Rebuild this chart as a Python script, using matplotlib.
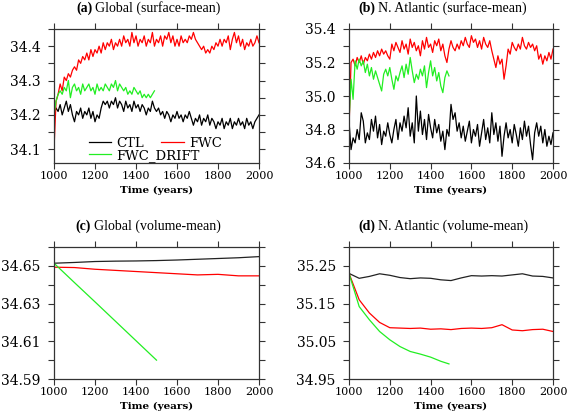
# LIBRARIES

import numpy as np
import matplotlib
matplotlib.use("Agg")
import matplotlib.pyplot as plt
from matplotlib.ticker import MultipleLocator, FormatStrFormatter
from matplotlib.offsetbox import TextArea, HPacker, AnchoredOffsetbox


# DATA  (10-year steps for surface means)

YEARS = np.arange(1000, 2001, 10)
YEARS_DRIFT = np.arange(1000, 1491, 10)

A_CTL = [
    34.20, 34.22, 34.21, 34.23, 34.20, 34.22, 34.24, 34.21, 34.23, 34.20,
    34.18, 34.21, 34.20, 34.22, 34.19, 34.21, 34.20, 34.22, 34.19, 34.21,
    34.18, 34.20, 34.19, 34.22, 34.24, 34.23, 34.24, 34.22, 34.24, 34.23,
    34.25, 34.22, 34.24, 34.23, 34.21, 34.24, 34.22, 34.23, 34.21, 34.24,
    34.22, 34.23, 34.21, 34.23, 34.22, 34.20, 34.22, 34.21, 34.24, 34.22,
    34.21, 34.22, 34.20, 34.21, 34.19, 34.21, 34.20, 34.18, 34.20, 34.19,
    34.21, 34.19, 34.20, 34.18, 34.20, 34.19, 34.21, 34.19, 34.17, 34.19,
    34.18, 34.20, 34.17, 34.19, 34.18, 34.20, 34.17, 34.19, 34.18, 34.16,
    34.18, 34.17, 34.19, 34.16, 34.18, 34.17, 34.19, 34.16, 34.18, 34.17,
    34.19, 34.17, 34.18, 34.16, 34.19, 34.17, 34.18, 34.16, 34.18, 34.19,
    34.20,
]
A_FWC = [
    34.10, 34.24, 34.26, 34.29, 34.27, 34.31, 34.30, 34.32, 34.31, 34.33,
    34.34, 34.33, 34.36, 34.35, 34.37, 34.36, 34.38, 34.36, 34.39, 34.37,
    34.39, 34.38, 34.40, 34.38, 34.41, 34.39, 34.41, 34.40, 34.42, 34.39,
    34.41, 34.40, 34.42, 34.40, 34.43, 34.41, 34.42, 34.40, 34.44, 34.41,
    34.43, 34.40, 34.42, 34.41, 34.43, 34.40, 34.42, 34.41, 34.44, 34.40,
    34.42, 34.41, 34.43, 34.40, 34.43, 34.42, 34.44, 34.41, 34.43, 34.40,
    34.42, 34.40, 34.43, 34.41, 34.42, 34.41, 34.43, 34.42, 34.44, 34.42,
    34.41, 34.40, 34.39, 34.40, 34.38, 34.39, 34.38, 34.40, 34.39, 34.41,
    34.40, 34.42, 34.40, 34.42, 34.41, 34.43, 34.39, 34.42, 34.44, 34.41,
    34.43, 34.40, 34.42, 34.39, 34.41, 34.40, 34.42, 34.40, 34.41, 34.43,
    34.41,
]
A_DRIFT = [
    34.20, 34.24, 34.26, 34.27, 34.26, 34.28, 34.27, 34.30, 34.25, 34.28,
    34.29, 34.27, 34.28, 34.26, 34.29, 34.27, 34.28, 34.29, 34.27, 34.28,
    34.26, 34.29, 34.27, 34.28, 34.27, 34.29, 34.28, 34.27, 34.29, 34.28,
    34.30, 34.27, 34.29, 34.28, 34.27, 34.28, 34.26, 34.27, 34.26, 34.28,
    34.27, 34.26, 34.27, 34.25, 34.26, 34.25, 34.26, 34.25, 34.26, 34.27,
]

B_CTL = [
    34.85, 34.68, 34.75, 34.72, 34.80, 34.74, 34.90, 34.85, 34.72, 34.78,
    34.74, 34.86, 34.79, 34.88, 34.75, 34.83, 34.71, 34.79, 34.76, 34.84,
    34.77, 34.72, 34.80, 34.86, 34.74, 34.84, 34.79, 34.88, 34.81, 34.93,
    34.76, 34.84, 34.72, 35.00, 34.79, 34.91, 34.77, 34.86, 34.74, 34.89,
    34.81, 34.75, 34.86, 34.78, 34.83, 34.73, 34.79, 34.68, 34.80, 34.76,
    34.95, 34.86, 34.90, 34.79, 34.84, 34.75, 34.82, 34.73, 34.79, 34.85,
    34.72, 34.80, 34.76, 34.83, 34.70, 34.78, 34.86, 34.74, 34.81, 34.72,
    34.90, 34.77, 34.84, 34.73, 34.82, 34.64, 34.76, 34.84, 34.75, 34.80,
    34.72, 34.83, 34.77, 34.70, 34.81, 34.74, 34.85, 34.76, 34.82, 34.71,
    34.62, 34.78, 34.84, 34.76, 34.82, 34.72, 34.80, 34.70, 34.76, 34.71,
    34.78,
]
B_FWC = [
    34.80, 35.20, 35.22, 35.18, 35.23, 35.20, 35.24, 35.19, 35.23, 35.21,
    35.25, 35.22, 35.26, 35.23, 35.27, 35.24, 35.28, 35.25, 35.27, 35.24,
    35.22, 35.31, 35.27, 35.32, 35.29, 35.26, 35.33, 35.28, 35.31, 35.25,
    35.34, 35.29, 35.32, 35.27, 35.30, 35.24, 35.33, 35.28, 35.35, 35.29,
    35.31, 35.26, 35.33, 35.30, 35.34, 35.27, 35.31, 35.24, 35.20, 35.28,
    35.33, 35.29, 35.27, 35.31, 35.28, 35.33, 35.30, 35.35, 35.31, 35.29,
    35.36, 35.32, 35.34, 35.29, 35.33, 35.28, 35.35, 35.31, 35.29, 35.33,
    35.27, 35.22, 35.17, 35.24, 35.19, 35.22, 35.10, 35.18, 35.28, 35.25,
    35.32, 35.29, 35.27, 35.31, 35.28, 35.35, 35.30, 35.28, 35.32, 35.29,
    35.31, 35.27, 35.30, 35.22, 35.25, 35.19, 35.24, 35.21, 35.26, 35.22,
    35.28,
]
B_DRIFT = [
    34.85, 35.10, 34.98, 35.21, 35.16, 35.22, 35.18, 35.21, 35.14, 35.19,
    35.12, 35.17, 35.10, 35.15, 35.11, 35.07, 35.03, 35.13, 35.16, 35.12,
    35.17, 35.10, 35.04, 35.12, 35.09, 35.14, 35.18, 35.11, 35.19, 35.13,
    35.23, 35.15, 35.08, 35.13, 35.10, 35.16, 35.12, 35.18, 35.05, 35.14,
    35.21, 35.12, 35.17, 35.09, 35.14, 35.06, 35.02, 35.11, 35.15, 35.12,
]

YEARS_C = np.arange(1000, 2001, 100)
YEARS_C_DRIFT = np.arange(1000, 1501, 100)
C_CTL = [34.6514, 34.6518, 34.6523, 34.6525, 34.6526, 34.6528,
         34.6531, 34.6535, 34.6539, 34.6543, 34.6549]
C_FWC = [34.6493, 34.6491, 34.6482, 34.6476, 34.6470, 34.6464,
         34.6458, 34.6452, 34.6455, 34.6447, 34.6447]
C_DRIFT = [34.6514, 34.6411, 34.6309, 34.6206, 34.6103, 34.6000]

YEARS_D = np.arange(1000, 2001, 50)
YEARS_D_DRIFT = [1000, 1050, 1100, 1150, 1200, 1250, 1300, 1350, 1400, 1450, 1490]
D_CTL = [35.230, 35.217, 35.222, 35.229, 35.225, 35.219, 35.216, 35.218,
         35.217, 35.213, 35.211, 35.218, 35.224, 35.223, 35.224, 35.223,
         35.226, 35.229, 35.223, 35.222, 35.218]
D_FWC = [35.230, 35.160, 35.125, 35.100, 35.086, 35.085, 35.084, 35.085,
         35.082, 35.083, 35.081, 35.084, 35.085, 35.084, 35.086, 35.094,
         35.080, 35.078, 35.081, 35.082, 35.076]
D_DRIFT = [35.230, 35.142, 35.107, 35.076, 35.054, 35.036, 35.023, 35.016,
           35.008, 34.997, 34.990]


# STYLE

W, H = 567, 417
SERIF = "DejaVu Serif"
TITLE_FONT = "Liberation Serif"
GREEN = "#22ee22"
EDGE = "#333333"


def rect(l, t, r, b):
    return [l / W, (H - b) / H, (r - l) / W, (b - t) / H]


def style(ax, ylim, lab_step, tick_step, fmt, offset=0.0):
    ax.set_xlim(1000, 2000)
    ax.set_ylim(*ylim)
    ax.xaxis.set_major_locator(MultipleLocator(200))
    ax.yaxis.set_major_locator(MultipleLocator(lab_step, offset=offset))
    ax.yaxis.set_minor_locator(MultipleLocator(tick_step))
    ax.yaxis.set_major_formatter(FormatStrFormatter(fmt))
    ax.tick_params(which="both", direction="out", top=True, right=True,
                   length=4.5, width=0.8, color=EDGE)
    ax.tick_params(axis="y", labelsize=10, pad=5, labelfontfamily=SERIF)
    ax.tick_params(axis="x", labelsize=8, pad=1.5, labelfontfamily=SERIF)
    for s in ax.spines.values():
        s.set_color(EDGE)
        s.set_linewidth(0.9)
    ax.set_xlabel("Time (years)", family=SERIF, fontweight="bold",
                  fontsize=7.5, labelpad=3)


def title(ax, tag, text):
    box = HPacker(children=[
        TextArea(tag, textprops=dict(family=TITLE_FONT, weight="bold", size=10)),
        TextArea(text, textprops=dict(family=TITLE_FONT, size=10)),
    ], align="baseline", pad=0, sep=2)
    anc = AnchoredOffsetbox(loc="lower center", child=box, pad=0, borderpad=1.0,
                            frameon=False, bbox_to_anchor=(0.46, 1.0),
                            bbox_transform=ax.transAxes, prop=dict(size=10))
    ax.add_artist(anc)


# PLOT

fig = plt.figure(figsize=(W / 100, H / 100), dpi=100)

ax_a = fig.add_axes(rect(54, 29, 259, 163))
ax_b = fig.add_axes(rect(349, 29, 553, 163))
ax_c = fig.add_axes(rect(54, 247, 259, 379))
ax_d = fig.add_axes(rect(349, 247, 553, 379))

lw = 0.9

# (a)
l_ctl, = ax_a.plot(YEARS, A_CTL, color="black", lw=lw, label="CTL")
l_fwc, = ax_a.plot(YEARS, A_FWC, color="red", lw=lw, label="FWC")
l_dr, = ax_a.plot(YEARS_DRIFT, A_DRIFT, color=GREEN, lw=lw, label="FWC_DRIFT")
style(ax_a, (34.06, 34.45), 0.1, 0.05, "%.1f")
title(ax_a, "(a)", "Global (surface-mean)")

leg_kw = dict(frameon=False, prop=dict(family=SERIF, size=9.5), handlelength=1.7,
              handletextpad=0.4, borderpad=0, borderaxespad=0, loc="center left")
leg1 = ax_a.legend(handles=[l_ctl, l_fwc], ncol=2, columnspacing=1.3,
                   bbox_to_anchor=(0.17, 0.145), **leg_kw)
ax_a.add_artist(leg1)
ax_a.legend(handles=[l_dr], bbox_to_anchor=(0.17, 0.058), **leg_kw)

# (b)
ax_b.plot(YEARS, B_CTL, color="black", lw=lw)
ax_b.plot(YEARS, B_FWC, color="red", lw=lw)
ax_b.plot(YEARS_DRIFT, B_DRIFT, color=GREEN, lw=lw)
style(ax_b, (34.6, 35.4), 0.2, 0.1, "%.1f")
title(ax_b, "(b)", "N. Atlantic (surface-mean)")

# (c)
ax_c.plot(YEARS_C, C_CTL, color="#222222", lw=0.9)
ax_c.plot(YEARS_C, C_FWC, color="red", lw=0.9)
ax_c.plot(YEARS_C_DRIFT, C_DRIFT, color=GREEN, lw=0.9)
style(ax_c, (34.59, 34.66), 0.02, 0.01, "%.2f", offset=0.01)
title(ax_c, "(c)", "Global (volume-mean)")

# (d)
ax_d.plot(YEARS_D, D_CTL, color="#222222", lw=0.9)
ax_d.plot(YEARS_D, D_FWC, color="red", lw=0.9)
ax_d.plot(YEARS_D_DRIFT, D_DRIFT, color=GREEN, lw=0.9)
style(ax_d, (34.95, 35.30), 0.1, 0.05, "%.2f", offset=0.05)
title(ax_d, "(d)", "N. Atlantic (volume-mean)")

fig.savefig("out.png", dpi=100)
